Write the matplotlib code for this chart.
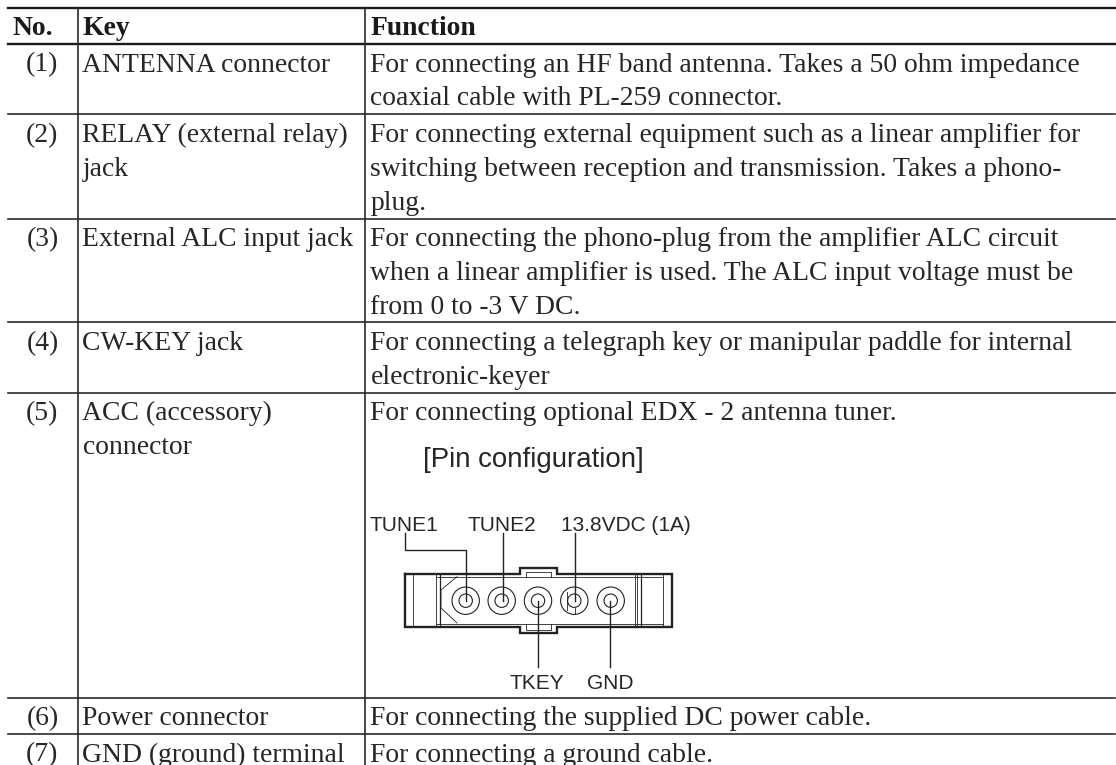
import matplotlib
matplotlib.use('Agg')
import matplotlib.pyplot as plt
from matplotlib.patches import Circle

plt.rcParams['font.family'] = ['Liberation Serif', 'DejaVu Serif']

# table content
headers = ['No.', 'Key', 'Function']
numbers = ['(1)', '(2)', '(3)', '(4)', '(5)', '(6)', '(7)']
keys = [
    ['ANTENNA connector'],
    ['RELAY (external relay)', 'jack'],
    ['External ALC input jack'],
    ['CW-KEY jack'],
    ['ACC (accessory)', 'connector'],
    ['Power connector'],
    ['GND (ground) terminal'],
]
functions = [
    ['For connecting an HF band antenna. Takes a 50 ohm impedance',
     'coaxial cable with PL-259 connector.'],
    ['For connecting external equipment such as a linear amplifier for',
     'switching between reception and transmission. Takes a phono-',
     'plug.'],
    ['For connecting the phono-plug from the amplifier ALC circuit',
     'when a linear amplifier is used. The ALC input voltage must be',
     'from 0 to -3 V DC.'],
    ['For connecting a telegraph key or manipular paddle for internal',
     'electronic-keyer'],
    ['For connecting optional EDX - 2 antenna tuner.'],
    ['For connecting the supplied DC power cable.'],
    ['For connecting a ground cable.'],
]

# pixel layout of the table
row_lines = [44, 114.4, 218.7, 322.3, 392.7, 697.7, 734]
TXT = '#262626'
LINE = '#2b2b2b'

fig = plt.figure(figsize=(11.16, 7.65), dpi=100)
ax = fig.add_axes([0, 0, 1, 1])
ax.set_xlim(0, 1116)
ax.set_ylim(765, 0)
ax.axis('off')

# rules
ax.plot([8, 1115], [7.5, 7.5], color='#1a1a1a', lw=1.7)
ax.plot([8, 1115], [44, 44], color='#1a1a1a', lw=1.7)
for y in row_lines[1:]:
    ax.plot([8, 1115], [y, y], color=LINE, lw=1.2)
for x in [77.7, 365.4]:
    ax.plot([x, x], [7.5, 765], color=LINE, lw=1.2)

# header
FS = 19.9
ax.text(12.5, 35, headers[0], fontsize=FS, fontweight='bold', color='#1a1a1a')
ax.text(82.5, 35, headers[1], fontsize=FS, fontweight='bold', color='#1a1a1a')
ax.text(370.5, 35, headers[2], fontsize=FS, fontweight='bold', color='#1a1a1a')

# rows
for i, top in enumerate(row_lines):
    base = top + 27.5
    ax.text(58.5, base, numbers[i], fontsize=FS, color=TXT, ha='right')
    for j, s in enumerate(keys[i]):
        ax.text(82.5, base + j * 33.8, s, fontsize=FS, color=TXT)
    for j, s in enumerate(functions[i]):
        ax.text(370.5, base + j * 33.8, s, fontsize=FS, color=TXT)

# connector diagram
SANS = ['Liberation Sans', 'DejaVu Sans']
pin_x = [465.7, 501.7, 538, 574.3, 610.7]
pin_y = 600.7
ax.text(423, 467, '[Pin configuration]', fontsize=19.9, family=SANS, color=TXT)
ax.text(370, 530.7, 'TUNE1', fontsize=15, family=SANS, color=TXT)
ax.text(468, 530.7, 'TUNE2', fontsize=15, family=SANS, color=TXT)
ax.text(561, 530.7, '13.8VDC (1A)', fontsize=15, family=SANS, color=TXT)
ax.text(510, 689, 'TKEY', fontsize=15, family=SANS, color=TXT)
ax.text(587, 689, 'GND', fontsize=15, family=SANS, color=TXT)

K = '#222222'
# body outline with the two latch tabs
ax.plot([405, 520, 520, 556.7, 556.7, 671.7, 671.7, 556.7, 556.7, 520, 520, 405, 405],
        [574.3, 574.3, 567.7, 567.7, 574.3, 574.3, 626.7, 626.7, 633, 633, 626.7, 626.7, 574.3],
        color=K, lw=1.7, solid_joinstyle='miter')
# latch insets
ax.plot([526, 526, 550.7, 550.7], [576.7, 571.5, 571.5, 576.7], color=K, lw=0.6)
ax.plot([526, 526, 550.7, 550.7], [624, 630, 630, 624], color=K, lw=0.6)
# inner edges
ax.plot([435.7, 662.7], [576.7, 576.7], color=K, lw=0.6)
ax.plot([435.7, 662.7], [624, 624], color=K, lw=0.6)
for x, w in [(413.3, 0.6), (435.7, 0.6), (439.7, 0.9), (634.7, 0.6), (637, 0.6),
             (640.7, 0.9), (662.7, 0.6)]:
    ax.plot([x, x], [575, 626], color=K, lw=w)
# chamfer at the left end
ax.plot([457, 441, 441, 457], [576.7, 590, 608, 623], color=K, lw=0.6)

# pins
for x in pin_x:
    ax.add_patch(Circle((x, pin_y), 13.7, fill=False, ec=K, lw=0.8))
    ax.add_patch(Circle((x, pin_y), 6.7, fill=False, ec=K, lw=0.8))
ax.plot([566.7, 566.7], [591.5, 610], color=K, lw=0.6)
ax.plot([575, 575], [608, 614], color=K, lw=0.6)

# leaders
ax.plot([404.7, 404.7, 465.7, 465.7], [533.3, 550, 550, 600.7], color=K, lw=1.0)
ax.plot([502.7, 502.7], [533.3, 600.7], color=K, lw=1.0)
ax.plot([575, 575], [533.3, 600.7], color=K, lw=1.0)
ax.plot([538, 538], [600.7, 667], color=K, lw=1.0)
ax.plot([610.3, 610.3], [600.7, 667], color=K, lw=1.0)

fig.savefig('out.png', dpi=100)
